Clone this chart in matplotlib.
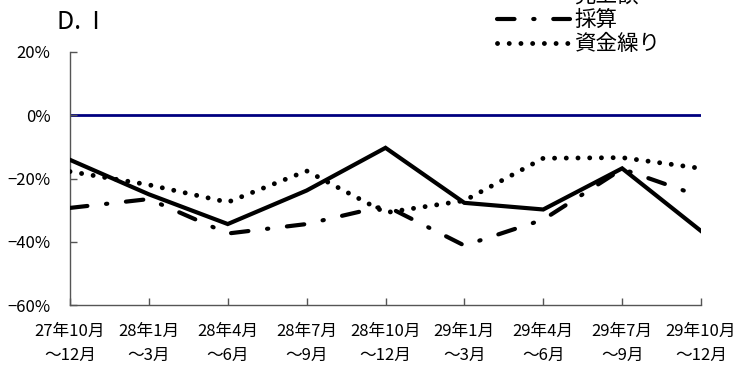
import matplotlib
matplotlib.use('Agg')
import matplotlib.pyplot as plt

plt.rcParams['font.family'] = ['Noto Sans CJK JP', 'DejaVu Sans']

# Data (%)
periods = ['27年10月\n～12月', '28年1月\n～3月', '28年4月\n～6月', '28年7月\n～9月',
           '28年10月\n～12月', '29年1月\n～3月', '29年4月\n～6月', '29年7月\n～9月',
           '29年10月\n～12月']
sales = [-14.1, -25.0, -34.4, -23.8, -10.3, -27.7, -29.8, -16.8, -36.6]
profit = [-29.3, -26.5, -37.4, -34.4, -28.6, -41.2, -33.0, -17.0, -25.7]
cashflow = [-17.8, -22.0, -27.5, -17.6, -30.8, -27.0, -13.6, -13.4, -16.8]
yticks = [20, 0, -20, -40, -60]
ytick_labels = ['20%', '0%', '−20%', '−40%', '−60%']

fig = plt.figure(figsize=(7.36, 3.65), dpi=100)
ax = fig.add_axes([70 / 736, 1 - 305 / 365, 631 / 736, 253 / 365])

x = range(len(periods))

# Zero line
ax.axhline(0, color='#000080', linewidth=2.0, zorder=1)

ax.plot(x, sales, color='black', linewidth=3.0, solid_joinstyle='miter',
        label='売上額', zorder=3)
ax.plot(x, profit, color='black', linewidth=3.0,
        linestyle=(0, (4.2, 4.5, 0.3, 4.5)), dash_capstyle='round',
        label='採算', zorder=3)
ax.plot(x, cashflow, color='black', linewidth=3.5,
        linestyle=(0, (0.01, 2.4)), dash_capstyle='round',
        label='資金繰り', zorder=3)

ax.set_xlim(0, len(periods) - 1)
ax.set_ylim(-60, 20)
ax.set_xticks(list(x))
ax.set_xticklabels(periods, fontsize=12, linespacing=1.55)
ax.set_yticks(yticks)
ax.set_yticklabels(ytick_labels, fontsize=12)

ax.tick_params(axis='both', direction='in', length=5, color='#555555', width=1)
ax.tick_params(axis='x', pad=13)
ax.tick_params(axis='y', pad=14)
for side in ['top', 'right']:
    ax.spines[side].set_visible(False)
for side in ['left', 'bottom']:
    ax.spines[side].set_color('#555555')
    ax.spines[side].set_linewidth(1)

# Title
fig.text(57 / 736, 1 - 22 / 365, 'D.  I', fontsize=18, va='center', ha='left')

# Legend (top row is cut off at the figure edge, as in the original)
fig.legend(loc='upper left', bbox_to_anchor=(497 / 736, 1 + 15 / 365),
           bbox_transform=fig.transFigure, frameon=False, fontsize=15.5,
           handlelength=3.4, handletextpad=0.2, labelspacing=0.1,
           borderpad=0, borderaxespad=0)

fig.savefig('out.png', dpi=100)
